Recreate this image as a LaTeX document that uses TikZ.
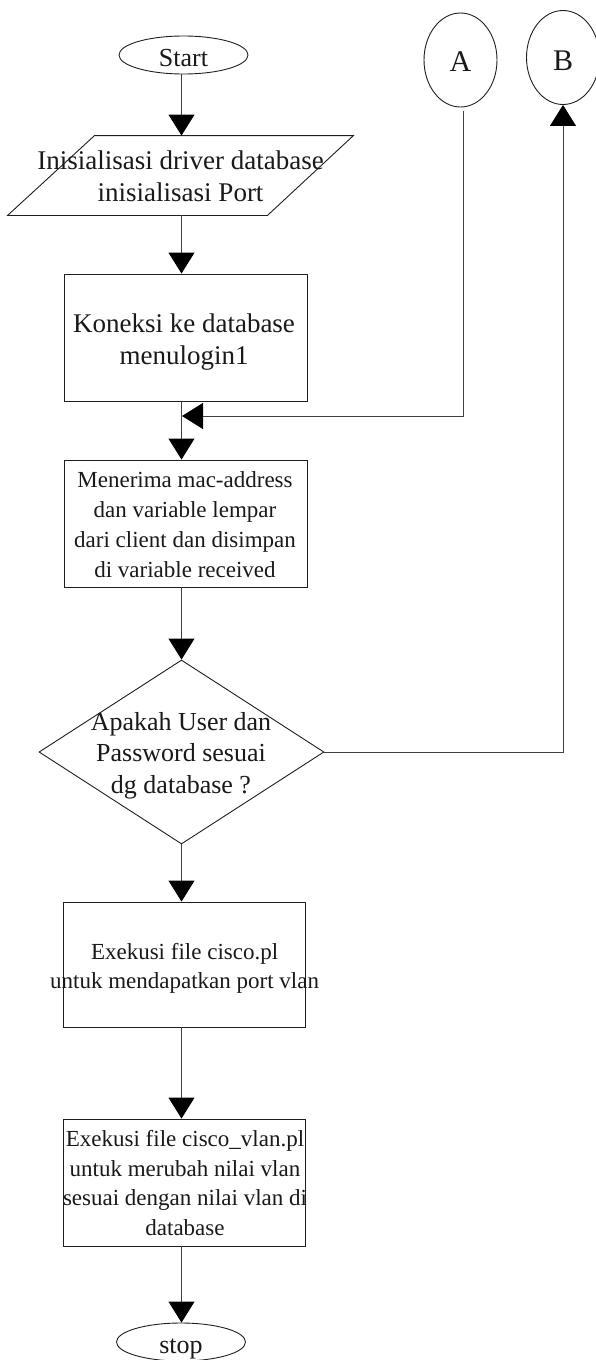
\documentclass[tikz,border=0pt]{standalone}
\usepackage{fontspec}
\setmainfont{Liberation Serif}
\usetikzlibrary{arrows.meta,shapes.geometric,calc}

\begin{document}
\begin{tikzpicture}[x=1pt,y=-1pt,
  line width=0.9pt,
  every node/.style={text=black!90},
  outline/.style={draw=black!88, line width=0.9pt},
  terminal/.style={ellipse, outline, inner sep=0pt, minimum width=129pt,
    minimum height=38pt, font=\fontsize{26}{30}\selectfont},
  offpage/.style={ellipse, outline, inner sep=0pt, minimum width=73pt,
    minimum height=94pt, font=\fontsize{30}{34}\selectfont},
  process/.style={rectangle, outline, inner sep=0pt, minimum width=243pt,
    minimum height=127pt},
  txt/.style={align=center, inner sep=0pt},
  flow/.style={draw=black!75, line width=0.9pt,
    -{Triangle[length=21pt,width=26pt,color=black]}},
]
\useasboundingbox (0,0) rectangle (596,1360);

% column along which the main flow runs
\coordinate (axis) at (181.5,0);

% terminals and off-page connectors
\node[terminal, text height=23pt, text depth=0pt] (start) at (183.5,55) {Start};
\node[offpage, text height=23.4pt, text depth=0pt] (A) at (460.5,60) {A};
\node[offpage, text height=25pt, text depth=0pt] (B) at (563,57.5) {B};

% input / output (parallelogram)
\node[minimum width=345pt, minimum height=79pt, inner sep=0pt] (io) at (180.5,175.5) {};
\draw[outline] (io.south west) -- ($(io.south east)+(-86,0)$)
  -- (io.north east) -- ($(io.north west)+(87,0)$) -- cycle;
\node[txt, font=\fontsize{27}{31.7}\selectfont] (io-text) at (180.6,176.6)
  {Inisialisasi driver database\\inisialisasi Port};

% process boxes
\node[process] (kon) at (185.5,337.5) {};
\node[txt, font=\fontsize{27}{31.7}\selectfont] (kon-text) at (184,342.3)
  {Koneksi ke database\\menulogin1};

\node[process] (men) at (185.5,523.5) {};
\node[txt, font=\fontsize{23}{30}\selectfont] (men-text) at (185,524.2)
  {Menerima mac-address\\dan variable lempar\\dari client dan disimpan\\di variable received};

% decision
\node[diamond, outline, inner sep=0pt, minimum width=285pt, minimum height=184pt] (dec) at (181.5,752) {};
\node[txt, font=\fontsize{26}{31.5}\selectfont] (dec-text) at (181,755.4)
  {Apakah User dan\\Password sesuai\\dg database ?};

\node[process, minimum width=242pt, minimum height=125pt] (ex1) at (184,964.5) {};
\node[txt, font=\fontsize{23}{29.5}\selectfont] (ex1-text) at (184.6,968.4)
  {Exekusi file cisco.pl\\untuk mendapatkan port vlan};

\node[process, minimum width=242pt] (ex2) at (184,1182.5) {};
\node[txt, font=\fontsize{23}{29.4}\selectfont] (ex2-text) at (185,1183)
  {Exekusi file cisco\_vlan.pl\\untuk merubah nilai vlan\\sesuai dengan nilai vlan di\\database};

\node[terminal, text height=22pt, text depth=0pt] (stop) at (181,1342) {stop};

% connectors
\coordinate (join) at (182,416);
\draw[flow] (start.south -| axis) -- (io.north -| axis);
\draw[flow] (io.south -| axis) -- (kon.north -| axis);
\draw[flow] (kon.south -| axis) -- (men.north -| axis);
\draw[flow, shorten <=4pt] ([xshift=2.5pt]A.south) |- (join);
\draw[flow] (men.south -| axis) -- (dec.north);
\draw[flow] (dec.east) -| (B.south);
\draw[flow] (dec.south) -- (ex1.north -| axis);
\draw[flow] (ex1.south -| axis) -- (ex2.north -| axis);
\draw[flow] (ex2.south -| axis) -- (stop.north -| axis);
\end{tikzpicture}
\end{document}
